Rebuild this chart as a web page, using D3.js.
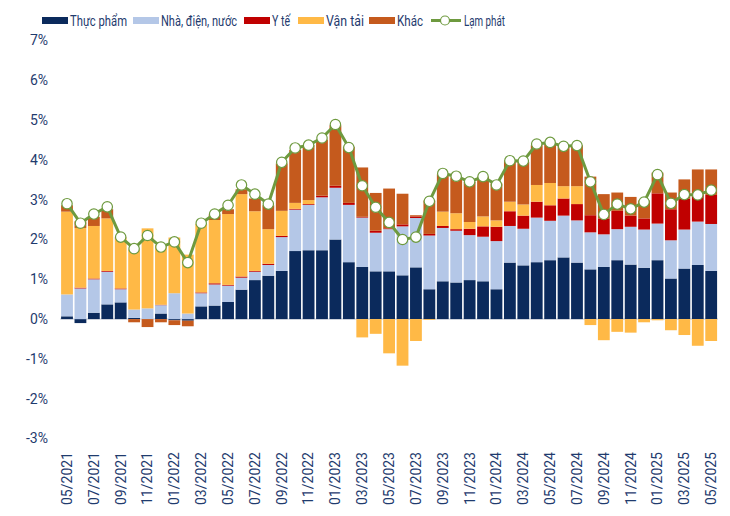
<!DOCTYPE html>
<html><head><meta charset="utf-8">
<script src="https://cdn.jsdelivr.net/npm/d3@7"></script>
<style>
html,body{margin:0;padding:0;background:#fff;}
svg{display:block;}
</style></head>
<body>
<svg id="c" width="730" height="516"></svg>
<script>
const months = ["05/2021","06/2021","07/2021","08/2021","09/2021","10/2021","11/2021","12/2021",
"01/2022","02/2022","03/2022","04/2022","05/2022","06/2022","07/2022","08/2022","09/2022","10/2022","11/2022","12/2022",
"01/2023","02/2023","03/2023","04/2023","05/2023","06/2023","07/2023","08/2023","09/2023","10/2023","11/2023","12/2023",
"01/2024","02/2024","03/2024","04/2024","05/2024","06/2024","07/2024","08/2024","09/2024","10/2024","11/2024","12/2024",
"01/2025","02/2025","03/2025","04/2025","05/2025"];
const seriesNames = ["Thực phẩm","Nhà, điện, nước","Y tế","Vận tải","Khác"];
const food = [0.07,-0.10,0.16,0.37,0.42,0.03,0.00,0.14,-0.03,-0.04,0.32,0.34,0.43,0.74,0.98,1.09,1.21,1.71,1.73,1.73,
2.00,1.43,1.31,1.20,1.20,1.10,1.30,0.75,0.95,0.92,0.98,0.95,0.75,1.42,1.35,1.43,1.48,1.55,1.42,1.25,1.31,1.48,1.37,1.29,
1.48,1.02,1.27,1.36,1.21];
const housing = [0.55,0.77,0.84,0.82,0.33,0.21,0.27,0.21,0.65,0.14,0.33,0.53,0.41,0.30,0.21,0.27,0.85,1.04,1.14,1.33,
1.30,1.44,1.24,0.97,1.06,1.23,1.24,1.35,1.34,1.30,1.13,1.12,1.21,0.92,0.92,1.12,0.99,1.05,1.06,0.93,0.82,0.78,0.95,0.96,
0.92,0.96,0.98,1.09,1.18];
const health = [0.00,0.02,0.02,0.02,0.02,0.00,0.00,0.01,0.00,0.00,0.02,0.03,0.02,0.03,0.02,0.03,0.03,0.02,0.02,0.04,
0.05,0.05,0.02,0.05,0.02,0.05,0.04,0.04,0.05,0.04,0.16,0.26,0.36,0.37,0.33,0.40,0.39,0.43,0.41,0.43,0.40,0.46,0.28,0.28,
0.76,0.78,0.78,0.67,0.73];
const transport = [2.08,1.50,1.32,1.32,1.26,1.51,2.01,1.50,1.40,1.48,1.72,1.59,1.78,2.07,1.50,0.87,0.63,0.15,0.10,0.00,
0.00,0.00,-0.46,-0.37,-0.86,-1.17,-0.55,-0.02,0.36,0.40,0.17,0.25,0.16,0.24,0.28,0.42,0.56,0.31,0.45,-0.15,-0.53,-0.32,-0.34,-0.08,
-0.03,-0.28,-0.40,-0.67,-0.55];
const other = [0.16,0.17,0.23,0.23,0.02,-0.08,-0.20,-0.08,-0.12,-0.14,0.00,0.14,0.12,0.12,0.32,0.60,1.19,1.33,1.38,1.41,
1.52,1.41,1.24,0.95,1.00,0.77,0.03,0.84,0.94,0.90,1.01,1.00,0.93,1.04,1.07,1.00,0.99,1.03,1.03,0.97,0.61,0.46,0.47,0.45,
0.52,0.42,0.48,0.64,0.64];
const inflation = [2.90,2.41,2.64,2.82,2.06,1.77,2.10,1.81,1.94,1.42,2.41,2.64,2.86,3.37,3.14,2.89,3.94,4.30,4.37,4.55,
4.89,4.31,3.35,2.81,2.43,2.00,2.06,2.96,3.66,3.59,3.45,3.58,3.37,3.98,3.97,4.40,4.44,4.34,4.36,3.45,2.63,2.89,2.77,2.94,
3.63,2.91,3.13,3.12,3.24];
const yTicks = [-3,-2,-1,0,1,2,3,4,5,6,7];
const xTickLabels = months.filter((m,i)=>i%2===0);
const colors = ["#0b2a5c","#b4c7e7","#c00000","#ffb946","#c55a1d"];
const lineColor = "#6e9a3f";
const textColor = "#1f3b6e";

const keys = ["food","housing","health","transport","other"];
const table = months.map((m,i)=>({month:m, food:food[i], housing:housing[i], health:health[i], transport:transport[i], other:other[i]}));

const svg = d3.select("#c");
const x = d3.scaleBand().domain(months).range([60.3, 717.9]).paddingInner(0.12).paddingOuter(0.06);
const y = d3.scaleLinear().domain([-3,7]).range([438.5,40.5]);

// zero line
svg.append("line").attr("x1",60).attr("x2",718).attr("y1",y(0)).attr("y2",y(0))
  .attr("stroke","#d9dde3").attr("stroke-width",1.5);

const stack = d3.stack().keys(keys).offset(d3.stackOffsetDiverging);
const layers = stack(table);
svg.append("g").selectAll("g").data(layers).join("g")
  .attr("fill",(d,i)=>colors[i])
  .selectAll("rect").data(d=>d).join("rect")
  .attr("x",d=>x(d.data.month))
  .attr("width",x.bandwidth())
  .attr("y",d=>y(Math.max(d[0],d[1])))
  .attr("height",d=>Math.abs(y(d[0])-y(d[1])));

// y axis
const yAxis = d3.axisLeft(y).tickValues(yTicks).tickFormat(d=>d+"%").tickSize(0).tickPadding(0);
const ya = svg.append("g").attr("transform","translate(48,0)").call(yAxis);
ya.select(".domain").remove();
ya.selectAll("text").attr("fill",textColor).style("font-family","Roboto, 'Liberation Sans', sans-serif").style("font-size","14px");

// x axis
const xAxis = d3.axisBottom(x).tickValues(xTickLabels).tickSize(0).tickPadding(0);
const xa = svg.append("g").attr("transform","translate(0,448)").call(xAxis);
xa.select(".domain").remove();
xa.selectAll("text").attr("fill",textColor)
  .style("font-family","Roboto, 'Liberation Sans', sans-serif").style("font-size","14px")
  .attr("transform","rotate(-90)").attr("text-anchor","end")
  .attr("x",-4).attr("y",0).attr("dy","0.35em");

// line
const line = d3.line().x((d,i)=>x(months[i])+x.bandwidth()/2).y(d=>y(d));
svg.append("path").datum(inflation).attr("d",line).attr("fill","none")
  .attr("stroke",lineColor).attr("stroke-width",3).attr("stroke-linejoin","round");
svg.append("g").selectAll("circle").data(inflation).join("circle")
  .attr("cx",(d,i)=>x(months[i])+x.bandwidth()/2).attr("cy",d=>y(d)).attr("r",5.2)
  .attr("fill","#fff").attr("stroke",lineColor).attr("stroke-width",1.2);

// legend
const legFont = "Roboto, 'Liberation Sans', sans-serif";
const legItems = [
  {name:seriesNames[0], x:42, w:57, type:"rect", c:colors[0]},
  {name:seriesNames[1], x:133, w:76, type:"rect", c:colors[1]},
  {name:seriesNames[2], x:244, w:18, type:"rect", c:colors[2]},
  {name:seriesNames[3], x:298, w:38, type:"rect", c:colors[3]},
  {name:seriesNames[4], x:369, w:26, type:"rect", c:colors[4]},
  {name:"Lạm phát", x:431, w:41, type:"line", c:lineColor}
];
const lg = svg.append("g");
legItems.forEach(it=>{
  if(it.type==="rect"){
    lg.append("rect").attr("x",it.x).attr("y",17).attr("width",26).attr("height",7).attr("fill",it.c);
  } else {
    lg.append("line").attr("x1",it.x).attr("x2",it.x+30).attr("y1",20.5).attr("y2",20.5).attr("stroke",it.c).attr("stroke-width",3);
    lg.append("circle").attr("cx",it.x+14).attr("cy",20.5).attr("r",4.5).attr("fill","#fff").attr("stroke",it.c).attr("stroke-width",1.2);
  }
  lg.append("text").attr("x",it.x+(it.type==="rect"?28:33)).attr("y",20.5).attr("dy","0.35em")
    .attr("fill",textColor).style("font-family",legFont).style("font-size","15.5px")
    .attr("textLength",it.w).attr("lengthAdjust","spacingAndGlyphs").text(it.name);
});
</script>
</body></html>
